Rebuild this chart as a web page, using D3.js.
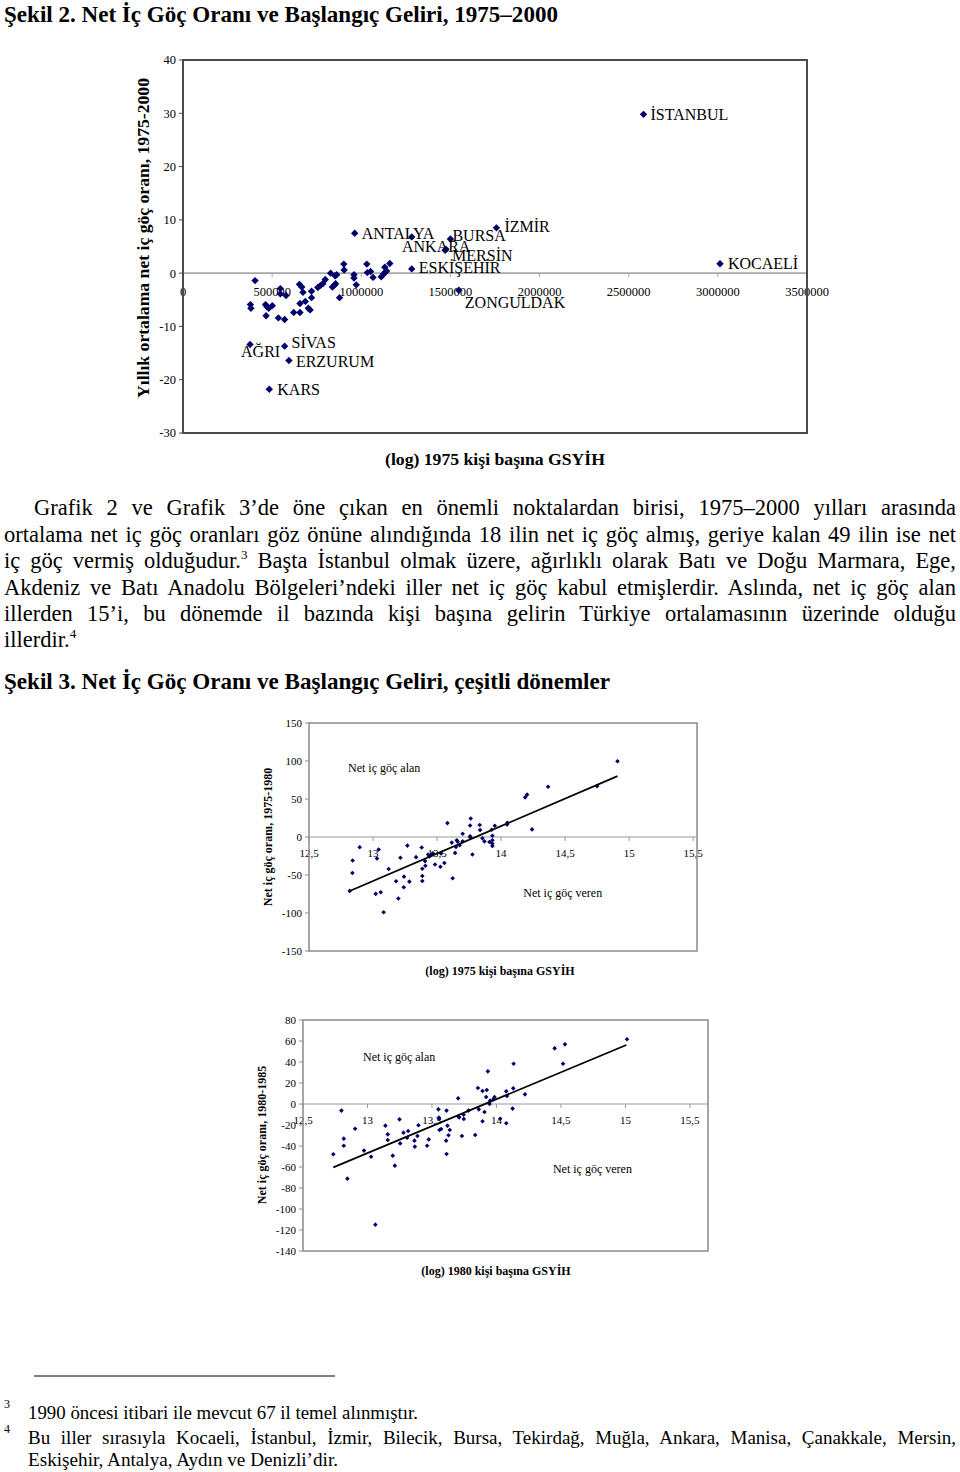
<!DOCTYPE html>
<html><head><meta charset="utf-8">
<script src="https://cdn.jsdelivr.net/npm/d3@7"></script>
<style>
body{margin:0;background:#fff}
svg{display:block}
text{font-family:"Liberation Serif","Times New Roman",serif;fill:#000}
</style>
</head><body>
<svg id="page" width="960" height="1472"></svg>
<script>
// ---------------- DATA ----------------
// Chart 1 (Şekil 2): 1975 per-capita GDP vs average net internal migration rate 1975-2000
const c1Gdp = [404000,378000,381000,463000,471000,501000,481000,466000,535000,570000,
  546000,546000,578000,621000,656000,656000,653000,666000,673000,686000,
  703000,713000,721000,721000,756000,771000,784000,798000,828000,838000,
  848000,856000,853000,862000,878000,902000,904000,959000,959000,972000,
  1031000,1034000,1052000,1066000,1112000,1124000,1132000,1135000,1142000,1160000,
  1283000,
  963000,1283000,1475000,1470000,1500000,1758000,1547000,3012000,2583000,376000,570000,594000,484000];
const c1Rate = [-1.4,-5.9,-6.6,-5.9,-6.3,-6.1,-6.6,-8.0,-8.4,-8.7,
  -2.9,-3.9,-4.2,-7.4,-7.4,-5.7,-2.1,-2.6,-3.6,-5.3,
  -6.6,-6.9,-4.6,-3.4,-2.7,-2.3,-2.0,-1.2,0.0,-2.6,
  -2.3,-2.0,-0.5,-0.3,-4.6,1.7,0.6,-0.3,-0.9,-2.2,
  1.7,0.1,0.3,-0.8,-0.7,-0.2,1.1,0.2,0.4,1.8,
  6.8,
  7.5,0.8,4.5,4.3,6.4,8.5,-3.2,1.75,29.8,-13.4,-13.7,-16.4,-21.8];
const c1Label = Array(51).fill("").concat(["ANTALYA","ESKİŞEHİR","ANKARA","MERSİN","BURSA","İZMİR","ZONGULDAK","KOCAELİ","İSTANBUL","AĞRI","SİVAS","ERZURUM","KARS"]);
const c1YTicks = [-30,-20,-10,0,10,20,30,40];
const c1XTicks = [0,500000,1000000,1500000,2000000,2500000,3000000,3500000];

// Chart 2: (log) 1975 GDP per capita vs net migration rate 1975-1980
const c2X = [12.818,12.839,12.841,12.896,13.021,13.031,13.044,13.060,13.083,13.122,
  13.180,13.198,13.214,13.242,13.240,13.268,13.284,13.336,13.380,13.385,
  13.385,13.385,13.406,13.409,13.430,13.440,13.452,13.465,13.470,13.484,
  13.526,13.531,13.557,13.581,13.615,13.622,13.641,13.648,13.654,13.661,
  13.677,13.700,13.700,13.758,13.763,13.758,13.760,13.776,13.833,13.836,
  13.854,13.870,13.909,13.927,13.932,13.932,13.932,13.932,13.951,14.047,
  14.049,14.188,14.203,14.242,14.367,14.750,14.909];
const c2Y = [-70.9,-47.4,-30.9,-13.5,-74.8,-28.3,-16.5,-72.6,-99.1,-42.2,
  -58.3,-80.9,-27.4,-52.2,-66.1,-11.3,-58.7,-26.5,-13.9,-41.7,
  -51.3,-57.8,-31.7,-37.8,-23.0,-25.5,-23.8,-21.7,-21.9,-36.1,
  -39.1,-21.7,-34.3,18.3,-7.4,-54.3,-20.9,-13.0,-4.3,-6.1,
  -10.9,-5.7,4.3,15.2,24.3,0.9,-0.4,-23.0,15.7,9.1,
  -1.7,-5.7,-6.5,9.6,1.7,-4.3,-8.7,-11.7,14.8,16.5,
  18.7,52.2,55.7,10.0,66.1,67.0,99.6];
const c2Trend = [[12.818,-71],[14.909,80]];
const c2YTicks = [-150,-100,-50,0,50,100,150];
const c2XTicks = [12.5,13,13.5,14,14.5,15,15.5];
const c2XLabels = ["12,5","13","13,5","14","14,5","15","15,5"];

// Chart 3: (log) 1980 GDP per capita vs net migration rate 1980-1985
const c3X = [12.735,12.798,12.816,12.816,12.844,12.904,12.973,13.028,13.061,13.139,
  13.157,13.157,13.196,13.212,13.248,13.253,13.279,13.307,13.315,13.364,
  13.367,13.387,13.395,13.462,13.475,13.550,13.553,13.556,13.558,13.571,
  13.610,13.613,13.613,13.620,13.628,13.638,13.703,13.706,13.711,13.732,
  13.745,13.747,13.783,13.835,13.856,13.863,13.892,13.892,13.907,13.920,
  13.925,13.933,13.946,13.951,13.977,13.985,14.029,14.076,14.081,14.076,
  14.125,14.130,14.133,14.221,14.451,14.516,14.531,15.012];
const c3Y = [-47.9,-6.3,-33.0,-39.7,-71.1,-23.5,-44.4,-50.2,-114.9,-20.6,
  -28.9,-34.3,-49.2,-58.7,-14.6,-37.5,-27.3,-32.1,-25.7,-34.9,
  -40.6,-30.5,-20.3,-39.7,-33.7,-5.1,-13.0,-14.3,-24.8,-23.8,
  -34.9,-6.3,-47.6,-20.6,-29.8,-24.8,5.4,-12.1,-12.7,-30.5,
  -10.2,-14.3,-6.3,-29.5,15.2,-5.1,12.4,-16.5,-7.6,6.7,
  13.3,31.1,0.0,3.2,4.8,6.7,-14.0,12.1,7.6,-18.4,
  -4.4,14.9,38.4,9.2,53.0,38.4,56.8,61.6];
const c3Trend = [[12.735,-60.3],[15.007,56.2]];
const c3YTicks = [-140,-120,-100,-80,-60,-40,-20,0,20,40,60,80];
const c3XTicks = [12.5,13,13.5,14,14.5,15,15.5];
const c3XLabels = ["12,5","13","13,5","14","14,5","15","15,5"];

// Texts
const title2 = "Şekil 2. Net İç Göç Oranı ve Başlangıç Geliri, 1975–2000";
const title3 = "Şekil 3. Net İç Göç Oranı ve Başlangıç Geliri, çeşitli dönemler";
const paraLines = [
  ["Grafik 2 ve Grafik 3’de öne çıkan en önemli noktalardan birisi, 1975–2000 yılları arasında"],
  ["ortalama net iç göç oranları göz önüne alındığında 18 ilin net iç göç almış, geriye kalan 49 ilin ise net"],
  ["iç göç vermiş olduğudur.", "3", " Başta İstanbul olmak üzere, ağırlıklı olarak Batı ve Doğu Marmara, Ege,"],
  ["Akdeniz ve Batı Anadolu Bölgeleri’ndeki iller net iç göç kabul etmişlerdir. Aslında, net iç göç alan"],
  ["illerden 15’i, bu dönemde il bazında kişi başına gelirin Türkiye ortalamasının üzerinde olduğu"],
  ["illerdir.", "4"]
];
const foot3 = "1990 öncesi itibari ile mevcut 67 il temel alınmıştır.";
const foot4a = "Bu iller sırasıyla Kocaeli, İstanbul, İzmir, Bilecik, Bursa, Tekirdağ, Muğla, Ankara, Manisa, Çanakkale, Mersin,";
const foot4b = "Eskişehir, Antalya, Aydın ve Denizli’dir.";

// ---------------- DRAWING ----------------
const svg = d3.select("#page");
const NAVY = "#00006a";
const diamond = r => `M0,${-r}L${r},0L0,${r}L${-r},0Z`;

function fit(sel, target, justify){
  const n = sel.node();
  const w = n.getComputedTextLength();
  const spaces = (n.textContent.match(/ /g) || []).length;
  if (justify && w < target && spaces) sel.attr("word-spacing", (target - w) / spaces);
  else if (w > target) sel.attr("textLength", target).attr("lengthAdjust", "spacingAndGlyphs");
}
function stretch(sel, target){
  sel.attr("textLength", target).attr("lengthAdjust", "spacingAndGlyphs");
}

// Titles
stretch(svg.append("text").attr("x", 4).attr("y", 22).attr("font-size", 22.5).attr("font-weight", "bold").text(title2), 554);
stretch(svg.append("text").attr("x", 4).attr("y", 689).attr("font-size", 22.5).attr("font-weight", "bold").text(title3), 606);

// ---- Chart 1 ----
(function(){
  const x = d3.scaleLinear().domain([0, 3500000]).range([183, 807]);
  const y = d3.scaleLinear().domain([-30, 40]).range([433, 60]);
  const g = svg.append("g");
  g.append("line").attr("x1", x(0)).attr("x2", x(3500000)).attr("y1", y(0)).attr("y2", y(0))
    .attr("stroke", "#a8a8a8").attr("stroke-width", 1.6);
  g.selectAll(".xt").data(c1XTicks).join("line")
    .attr("x1", d => x(d)).attr("x2", d => x(d)).attr("y1", y(0)).attr("y2", y(0) + 4)
    .attr("stroke", "#a8a8a8").attr("stroke-width", 1);
  g.selectAll(".xl").data(c1XTicks).join("text")
    .attr("x", d => x(d)).attr("y", y(0) + 18).attr("dy", "0.35em").attr("text-anchor", "middle")
    .attr("font-size", 12.5).text(d => d);
  g.append("rect").attr("x", x(0)).attr("y", y(40)).attr("width", x(3500000) - x(0)).attr("height", y(-30) - y(40))
    .attr("fill", "none").attr("stroke", "#4a4a4a").attr("stroke-width", 2);
  g.selectAll(".yt").data(c1YTicks).join("line")
    .attr("x1", x(0) - 4).attr("x2", x(0)).attr("y1", d => y(d)).attr("y2", d => y(d))
    .attr("stroke", "#4a4a4a").attr("stroke-width", 1);
  g.selectAll(".yl").data(c1YTicks).join("text")
    .attr("x", x(0) - 7).attr("y", d => y(d)).attr("dy", "0.35em").attr("text-anchor", "end")
    .attr("font-size", 12.5).text(d => d);
  const pts = c1Gdp.map((v, i) => ({x: v, y: c1Rate[i], l: c1Label[i]}));
  g.selectAll(".p").data(pts).join("path")
    .attr("d", diamond(3.7)).attr("transform", d => `translate(${x(d.x)},${y(d.y)})`).attr("fill", NAVY);
  const off = {"İSTANBUL":[7,0],"KOCAELİ":[8,0],"İZMİR":[8,-1],"BURSA":[2,-4],"ANTALYA":[7,0],
    "ANKARA":[-44,-3],"MERSİN":[7,5],"ESKİŞEHİR":[7,-1],"ZONGULDAK":[6,12],"AĞRI":[-9,7],
    "SİVAS":[7,-4],"ERZURUM":[7,1],"KARS":[8,0]};
  g.selectAll(".lb").data(pts.filter(d => d.l)).join("text")
    .attr("x", d => x(d.x) + off[d.l][0]).attr("y", d => y(d.y) + off[d.l][1]).attr("dy", "0.35em")
    .attr("font-size", 16).text(d => d.l);
  const yt = g.append("text").attr("transform", "translate(143,238) rotate(-90)").attr("text-anchor", "middle")
    .attr("dy", "0.35em").attr("font-size", 17.5).attr("font-weight", "bold")
    .text("Yıllık ortalama net iç göç oranı, 1975-2000");
  stretch(yt, 320);
  const xt = g.append("text").attr("x", 495).attr("y", 459).attr("dy", "0.35em").attr("text-anchor", "middle")
    .attr("font-size", 17).attr("font-weight", "bold").text("(log) 1975 kişi başına GSYİH");
  stretch(xt, 220);
})();

// ---- Paragraph ----
(function(){
  const base = [515, 542, 568, 595, 621, 647];
  paraLines.forEach((parts, i) => {
    const x0 = i === 0 ? 34 : 4;
    const t = svg.append("text").attr("x", x0).attr("y", base[i]).attr("font-size", 22.5);
    parts.forEach((p, j) => {
      const isSup = /^\d$/.test(p) && j > 0;
      const ts = t.append("tspan").text(p);
      if (isSup) ts.attr("font-size", 13).attr("dy", -9);
      else if (j > 0) ts.attr("dy", 9);
    });
    if (i < paraLines.length - 1) fit(t, 956 - x0, true);
  });
})();

// ---- Scatter charts 2 & 3 ----
function smallChart(o){
  const x = d3.scaleLinear().domain(o.xd).range(o.xr);
  const y = d3.scaleLinear().domain(o.yd).range(o.yr);
  const g = svg.append("g");
  g.append("line").attr("x1", o.xr[0]).attr("x2", o.xr[1]).attr("y1", y(0)).attr("y2", y(0))
    .attr("stroke", "#9a9a9a").attr("stroke-width", 1.2);
  g.selectAll(".xt").data(o.xt).join("line")
    .attr("x1", d => x(d)).attr("x2", d => x(d)).attr("y1", y(0)).attr("y2", y(0) + 4)
    .attr("stroke", "#9a9a9a").attr("stroke-width", 1);
  g.selectAll(".xl").data(o.xt).join("text")
    .attr("x", d => x(d)).attr("y", y(0) + 16).attr("dy", "0.35em").attr("text-anchor", "middle")
    .attr("font-size", 11).text((d, i) => o.xl[i]);
  g.append("rect").attr("x", o.xr[0]).attr("y", o.yr[1]).attr("width", o.xr[1] - o.xr[0]).attr("height", o.yr[0] - o.yr[1])
    .attr("fill", "none").attr("stroke", "#8a8a8a").attr("stroke-width", 1.5);
  g.selectAll(".yt").data(o.yt).join("line")
    .attr("x1", o.xr[0] - 4).attr("x2", o.xr[0]).attr("y1", d => y(d)).attr("y2", d => y(d))
    .attr("stroke", "#8a8a8a").attr("stroke-width", 1);
  g.selectAll(".yl").data(o.yt).join("text")
    .attr("x", o.xr[0] - 7).attr("y", d => y(d)).attr("dy", "0.35em").attr("text-anchor", "end")
    .attr("font-size", 11).text(d => d);
  const pts = o.px.map((v, i) => [v, o.py[i]]);
  g.selectAll(".p").data(pts).join("path")
    .attr("d", diamond(2.3)).attr("transform", d => `translate(${x(d[0])},${y(d[1])})`).attr("fill", NAVY);
  g.append("path").datum(o.trend).attr("d", d3.line().x(d => x(d[0])).y(d => y(d[1])))
    .attr("stroke", "#000").attr("stroke-width", 1.8).attr("fill", "none");
  o.notes.forEach(n => g.append("text").attr("x", x(n[1])).attr("y", y(n[2])).attr("dy", "0.35em")
    .attr("font-size", 12).text(n[0]));
  g.append("text").attr("transform", `translate(${o.ytPos[0]},${o.ytPos[1]}) rotate(-90)`).attr("text-anchor", "middle")
    .attr("dy", "0.35em").attr("font-size", 12).attr("font-weight", "bold").text(o.ytitle);
  g.append("text").attr("x", o.xtPos[0]).attr("y", o.xtPos[1]).attr("dy", "0.35em").attr("text-anchor", "middle")
    .attr("font-size", 12).attr("font-weight", "bold").text(o.xtitle);
}

smallChart({xd: [12.5, 15.53], xr: [309, 697], yd: [-150, 150], yr: [951, 723],
  xt: c2XTicks, xl: c2XLabels, yt: c2YTicks, px: c2X, py: c2Y, trend: c2Trend,
  notes: [["Net iç göç alan", 12.805, 91], ["Net iç göç veren", 14.173, -73]],
  ytitle: "Net iç göç oranı, 1975-1980", ytPos: [268, 837],
  xtitle: "(log) 1975 kişi başına GSYİH", xtPos: [500, 971]});

smallChart({xd: [12.5, 15.64], xr: [303, 708], yd: [-140, 80], yr: [1251, 1020],
  xt: c3XTicks, xl: c3XLabels, yt: c3YTicks, px: c3X, py: c3Y, trend: c3Trend,
  notes: [["Net iç göç alan", 12.965, 45], ["Net iç göç veren", 14.438, -62]],
  ytitle: "Net iç göç oranı, 1980-1985", ytPos: [262, 1135],
  xtitle: "(log) 1980 kişi başına GSYİH", xtPos: [496, 1271]});

// ---- Footnotes ----
svg.append("line").attr("x1", 34).attr("x2", 335).attr("y1", 1376).attr("y2", 1376).attr("stroke", "#000").attr("stroke-width", 1);
svg.append("text").attr("x", 4).attr("y", 1408).attr("font-size", 12).text("3");
stretch(svg.append("text").attr("x", 28).attr("y", 1419).attr("font-size", 19).text(foot3), 390);
svg.append("text").attr("x", 4).attr("y", 1433).attr("font-size", 12).text("4");
const f4 = svg.append("text").attr("x", 28).attr("y", 1444).attr("font-size", 19).text(foot4a);
fit(f4, 928, true);
stretch(svg.append("text").attr("x", 28).attr("y", 1466).attr("font-size", 19).text(foot4b), 310);
</script>
</body></html>
